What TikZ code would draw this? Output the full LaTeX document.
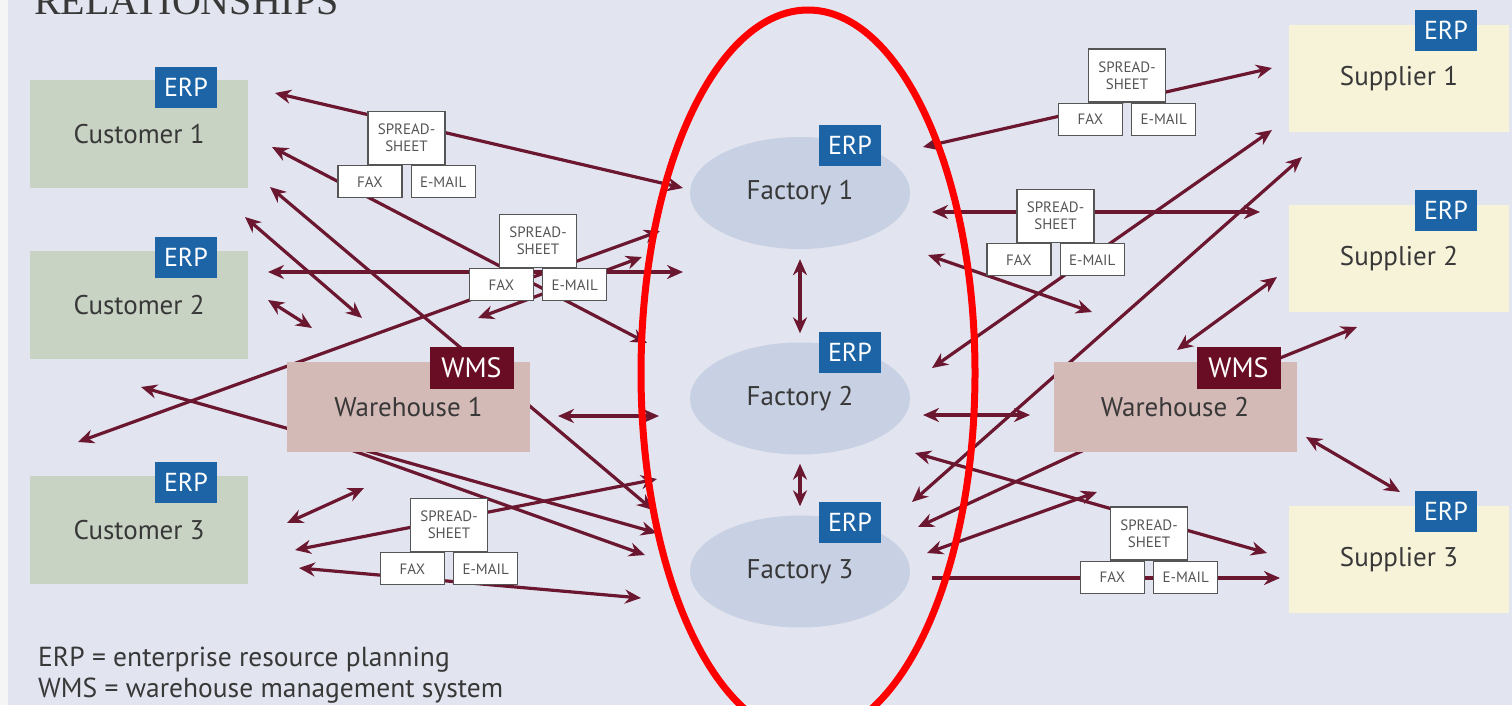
\documentclass[tikz,border=0pt]{standalone}
\usepackage{fontspec}
\setmainfont{PT Sans}
\newfontfamily\titlefont{Liberation Serif}
\usetikzlibrary{arrows.meta,shapes.geometric,positioning}

\definecolor{bgblue}{HTML}{E2E5F0}
\definecolor{custgreen}{HTML}{C9D3C4}
\definecolor{whpink}{HTML}{D4BAB6}
\definecolor{supcream}{HTML}{F7F3D9}
\definecolor{factblue}{HTML}{C8D1E3}
\definecolor{erpblue}{HTML}{1C64A6}
\definecolor{wmsred}{HTML}{690D24}
\definecolor{linkred}{HTML}{6B1730}
\definecolor{labelgray}{HTML}{383838}
\definecolor{docgray}{HTML}{555555}

\tikzset{
  unit/.style={rectangle, inner sep=0pt, text=labelgray, font=\fontsize{27}{30}\selectfont},
  custbox/.style={unit, fill=custgreen, minimum width=218pt, minimum height=108pt},
  supbox/.style={unit, fill=supcream, minimum width=220pt, minimum height=107pt},
  whbox/.style={unit, fill=whpink, minimum width=243pt, minimum height=90pt},
  factory/.style={unit, ellipse, fill=factblue, minimum width=220pt, minimum height=112pt},
  erptag/.style={rectangle, fill=erpblue, text=white, minimum width=62pt, minimum height=41pt, inner sep=0pt, font=\fontsize{26}{28}\selectfont},
  wmstag/.style={erptag, fill=wmsred, minimum width=84pt, minimum height=42pt, font=\fontsize{28}{30}\selectfont},
  sheet/.style={rectangle, draw=docgray, line width=1.3pt, fill=white, text=docgray, minimum width=77pt, minimum height=53pt, inner sep=0pt, align=center, font=\fontsize{15}{17}\selectfont},
  doc/.style={sheet, minimum width=64pt, minimum height=32pt},
  link/.style={draw=linkred, line width=3.2pt, {Stealth[length=16pt,width=14pt]}-{Stealth[length=16pt,width=14pt]}},
  onelink/.style={link, -{Stealth[length=16pt,width=14pt]}},
}

\begin{document}
\begin{tikzpicture}[x=1pt,y=-1pt]
  % backdrop
  \fill[bgblue] (0,0) rectangle (1512,705);
  \fill[black!4] (0,0) rectangle (8,705);
  \useasboundingbox (0,0) rectangle (1512,705);
  \node[anchor=base west, inner sep=0pt, text=labelgray, font=\titlefont\fontsize{40}{44}\selectfont] (title) at (34,14) {RELATIONSHIPS};

  % links, both ends tipped
  \foreach \n/\ax/\ay/\bx/\by in {
      cfa/275/93/683/188, cfb/272/147/647/343, cwa/270/187/653/510,
      cwb/245/217/362/318, cfc/268/272/683/272, cwc/268/300/312/328,
      cfd/78/442/660/231, cfe/478/318/642/257, cwd/141/387/657/533,
      wfa/558/416/659/416, cwe/287/523/364/488, cff/295/550/657/479,
      cfg/299/568/641/598,
      sfa/923/147/1272/68, sfb/932/212/1260/212, sfc/928/255/1092/312,
      sfd/932/368/1272/130, sfe/912/502/1302/157, swa/1177/350/1277/277,
      wfb/923/415/1030/415, sff/915/453/1267/553, sfg/927/553/1097/492,
      swb/1306/437/1400/492}{
    \coordinate (\n-s) at (\ax,\ay);
    \coordinate (\n-e) at (\bx,\by);
    \draw[link] (\n-s) -- (\n-e);
  }
  % links, one tip
  \foreach \n/\ax/\ay/\bx/\by in {
      wfc/340/446/645/555, wsa/1270/362/1357/327,
      wfd/1095/445/918/527, sfh/932/578/1280/578}{
    \coordinate (\n-s) at (\ax,\ay);
    \coordinate (\n-e) at (\bx,\by);
    \draw[onelink] (\n-s) -- (\n-e);
  }

  % customers
  \node[custbox] (cust1) at (139,134) {Customer 1};
  \node[custbox] (cust2) at (139,305) {Customer 2};
  \node[custbox] (cust3) at (139,530) {Customer 3};
  \node[erptag] (erpc1) at (186,87.5) {ERP};
  \node[erptag] (erpc2) at (186,257.5) {ERP};
  \node[erptag] (erpc3) at (186,482.5) {ERP};

  % warehouses
  \node[whbox] (wh1) at (408.5,407) {Warehouse 1};
  \node[whbox] (wh2) at (1175,407) {Warehouse 2};
  \node[wmstag] (wms1) at (471.5,368) {WMS};
  \node[wmstag] (wms2) at (1238.5,368) {WMS};

  % suppliers
  \node[supbox] (sup1) at (1399,78.5) {Supplier 1};
  \node[supbox] (sup2) at (1399,258.5) {Supplier 2};
  \node[supbox] (sup3) at (1399,559.5) {Supplier 3};
  \node[erptag] (erps1) at (1446,30.5) {ERP};
  \node[erptag] (erps2) at (1446,210.5) {ERP};
  \node[erptag] (erps3) at (1446,511.5) {ERP};

  % factories
  \node[factory] (fact1) at (800,193) {Factory 1};
  \node[factory] (fact2) at (800,398.5) {Factory 2};
  \node[factory] (fact3) at (800,571.5) {Factory 3};
  \node[erptag] (erpf1) at (850,145.5) {ERP};
  \node[erptag] (erpf2) at (850,352) {ERP};
  \node[erptag] (erpf3) at (850,522.5) {ERP};
  \draw[link, shorten <=10pt, shorten >=9pt] (fact1) -- (fact2);
  \draw[link, shorten <=9pt, shorten >=9pt] (fact2) -- (fact3);

  % paperwork
  \foreach \g/\x/\y in {a/406.5/138, b/538/241, c/449/525, d/1127/75.5, e/1055.5/216, f/1149/533.5}{
    \node[sheet] (sheet\g) at (\x,\y) {SPREAD-\\SHEET};
    \node[doc, anchor=north east] (fax\g) at ([xshift=-4pt]sheet\g.south) {FAX};
    \node[doc, anchor=north west] (mail\g) at ([xshift=4pt]sheet\g.south) {E-MAIL};
  }

  % legend
  \node[anchor=base west, inner sep=0pt, text=labelgray, font=\fontsize{27.5}{30}\selectfont] (legerp) at (38,666) {ERP = enterprise resource planning};
  \node[anchor=base west, inner sep=0pt, text=labelgray, font=\fontsize{27.5}{30}\selectfont] (legwms) at (38,697) {WMS = warehouse management system};

  % highlight
  \draw[red, line width=7pt] (808,373) ellipse [x radius=167pt, y radius=363pt];
\end{tikzpicture}
\end{document}
